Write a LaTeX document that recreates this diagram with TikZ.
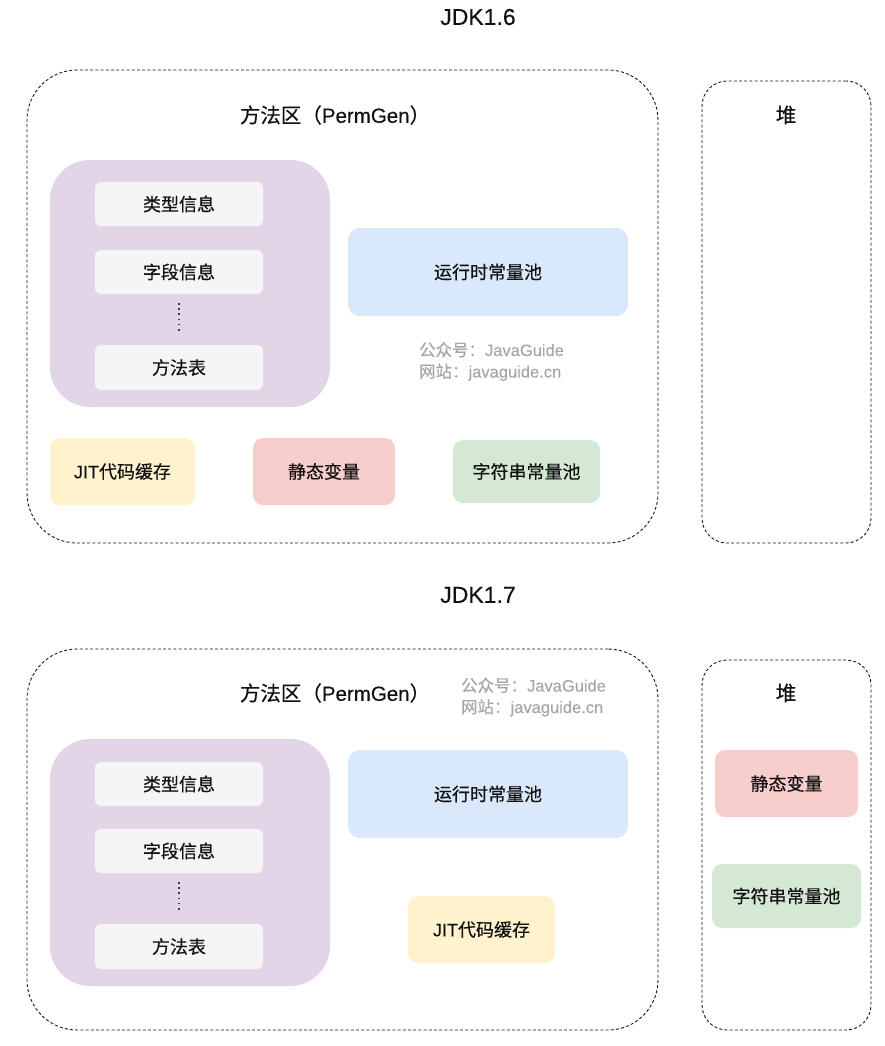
\documentclass[tikz,border=0pt]{standalone}
\usepackage{xcolor}
\usepackage{tikz}
\usetikzlibrary{positioning,calc}
\usepackage{fontspec}
\setmainfont{Noto Sans CJK SC}[FakeBold=0.35]
\newfontfamily\latinfont{Liberation Sans}[FakeBold=0.2]
\definecolor{inkgray}{HTML}{111111}
\definecolor{markgray}{HTML}{A6A6A6}
\definecolor{lilac}{HTML}{E1D5E7}
\definecolor{paper}{HTML}{F5F5F5}
\definecolor{skyblue}{HTML}{DAE8FC}
\definecolor{cream}{HTML}{FFF2CC}
\definecolor{rose}{HTML}{F8CECC}
\definecolor{mint}{HTML}{D5E8D4}
\tikzset{
  area/.style={draw=black!90,dash pattern=on 3pt off 2.2pt,line width=0.9pt},
  cell/.style={rounded corners=10pt,inner sep=0pt,text=inkgray,font=\fontsize{18}{21}\selectfont},
  infobox/.style={cell,fill=paper,rounded corners=6pt,minimum width=168pt,minimum height=44pt},
  dotline/.style={line width=1.8pt,dash pattern=on 1.8pt off 3.3pt,black!75},
  heading/.style={text=inkgray,font=\fontsize{20.5}{24}\selectfont},
  watermark/.style={align=left,text=markgray,font=\fontsize{16.5}{21.5}\selectfont}
}

\begin{document}
\begin{tikzpicture}[x=1pt,y=-1pt]
    \useasboundingbox[fill=white] (0,0) rectangle (885,1046);

    % ---------- JDK1.6 ----------
    \node[heading,font=\fontsize{23}{27}\latinfont] (jdk16) at (478,17) {JDK1.6};
    \node[area,rounded corners=50pt,minimum width=631pt,minimum height=473pt] (frame16) at (342.5,306.5) {};
    \node[area,rounded corners=25pt,minimum width=169pt,minimum height=462pt] (heap16) at (786.5,312) {};
    \node[heading] (permgen16) at (335,115) {方法区（{\latinfont PermGen}）};
    \node[heading] (heaptitle16) at (786,115) {堆};

    \node[fill=lilac,rounded corners=40pt,minimum width=280pt,minimum height=247pt] (klass16) at (190,283.5) {};
    \node[infobox] (type16) at (179,204) {类型信息};
    \node[infobox] (field16) at (179,272) {字段信息};
    \node[infobox,minimum height=45pt] (mtab16) at (179,367.5) {方法表};
    \draw[dotline] ([yshift=-9pt]field16.south) -- ([yshift=14pt]mtab16.north);

    \node[cell,fill=skyblue,rounded corners=12pt,minimum width=280pt,minimum height=88pt] (rtcp16) at (488,272) {运行时常量池};
    \node[watermark] (mark16) at (491.5,361.5) {公众号：{\latinfont JavaGuide}\\网站：{\latinfont javaguide.cn}};

    \node[cell,fill=cream,minimum width=145pt,minimum height=67pt] (jit16) at (122.5,471.5) {{\latinfont JIT}代码缓存};
    \node[cell,fill=rose,minimum width=142pt,minimum height=67pt] (static16) at (324,471.5) {静态变量};
    \node[cell,fill=mint,minimum width=147pt,minimum height=63pt] (strpool16) at (526.5,471.5) {字符串常量池};

    % ---------- JDK1.7 ----------
    \node[heading,font=\fontsize{23}{27}\latinfont] (jdk17) at (478,595) {JDK1.7};
    \node[area,rounded corners=50pt,minimum width=631pt,minimum height=381pt] (frame17) at (342.5,839.5) {};
    \node[area,rounded corners=25pt,minimum width=169pt,minimum height=370pt] (heap17) at (786.5,845) {};
    \node[heading] (permgen17) at (335,693) {方法区（{\latinfont PermGen}）};
    \node[heading] (heaptitle17) at (786,693) {堆};
    \node[watermark] (mark17) at (533.5,697) {公众号：{\latinfont JavaGuide}\\网站：{\latinfont javaguide.cn}};

    \node[fill=lilac,rounded corners=40pt,minimum width=280pt,minimum height=247pt] (klass17) at (190,862.5) {};
    \node[infobox] (type17) at (179,784) {类型信息};
    \node[infobox] (field17) at (179,851) {字段信息};
    \node[infobox,minimum height=45pt] (mtab17) at (179,946.5) {方法表};
    \draw[dotline] ([yshift=-9pt]field17.south) -- ([yshift=13pt]mtab17.north);

    \node[cell,fill=skyblue,rounded corners=12pt,minimum width=280pt,minimum height=88pt] (rtcp17) at (488,794) {运行时常量池};
    \node[cell,fill=cream,minimum width=147pt,minimum height=67pt] (jit17) at (481.5,929.5) {{\latinfont JIT}代码缓存};

    \node[cell,fill=rose,minimum width=143pt,minimum height=67pt] (static17) at (786.5,783.5) {静态变量};
    \node[cell,fill=mint,minimum width=149pt,minimum height=64pt] (strpool17) at (786.5,896) {字符串常量池};
\end{tikzpicture}
\end{document}
